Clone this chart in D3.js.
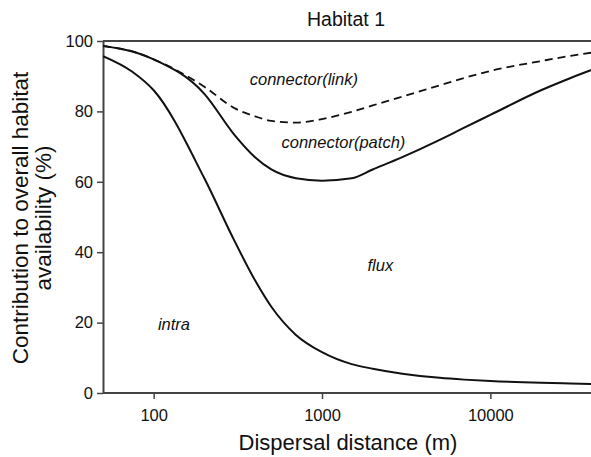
<!DOCTYPE html>
<html>
<head>
<meta charset="utf-8">
<script src="https://cdn.jsdelivr.net/npm/d3@7"></script>
<style>
  body { margin: 0; background: #fff; }
  svg { font-family: "Liberation Sans", Arial, sans-serif; }
</style>
</head>
<body>
<svg width="591" height="457"></svg>
<script>
// dispersal distance (m)
var distance = [50, 75, 100, 200, 300, 400, 500, 700, 1000, 1500, 2000, 3000, 5000, 7000, 10000, 20000, 30000, 50000];
var intra    = [95.7, 91.2, 86, 61, 43.5, 32, 24.5, 16.5, 11.6, 8.2, 6.9, 5.5, 4.3, 3.8, 3.4, 2.9, 2.7, 2.4];
var patch    = [98.6, 97, 94.8, 85, 73.5, 67, 63.5, 61, 60.3, 61, 63.5, 67, 71.9, 75.4, 79, 86, 89.5, 93.5];
var link     = [98.6, 97, 94.8, 87, 81, 78.6, 77.3, 76.8, 77.8, 79.9, 81.7, 84.2, 87.4, 89.5, 91.5, 94.3, 95.8, 97.3];

var xTicks = [100, 1000, 10000];
var yTicks = [0, 20, 40, 60, 80, 100];

var labels = [
  {text: "connector(link)", x: 780, y: 87.5},
  {text: "connector(patch)", x: 1340, y: 69.6},
  {text: "flux", x: 2220, y: 34.7},
  {text: "intra", x: 132, y: 17.9}
];

var svg = d3.select("svg");
var mLeft = 103, mTop = 41, mBottom = 393;

var x = d3.scaleLog().domain([50, 50000]).range([mLeft, 608]);
var y = d3.scaleLinear().domain([0, 100]).range([mBottom, mTop]);

var axisColor = "#444";

// top frame line
svg.append("line")
  .attr("x1", mLeft).attr("x2", 591)
  .attr("y1", mTop).attr("y2", mTop)
  .attr("stroke", axisColor).attr("stroke-width", 2);

var gx = svg.append("g")
  .attr("transform", "translate(0," + mBottom + ")")
  .call(d3.axisBottom(x).tickValues(xTicks).tickFormat(d3.format("d")).tickSize(6).tickSizeOuter(0));

var gy = svg.append("g")
  .attr("transform", "translate(" + mLeft + ",0)")
  .call(d3.axisLeft(y).tickValues(yTicks).tickSize(6).tickSizeOuter(0));

[gx, gy].forEach(function(g) {
  g.select(".domain").attr("stroke", axisColor).attr("stroke-width", 2);
  g.selectAll(".tick line").attr("stroke", axisColor).attr("stroke-width", 1.5);
  g.selectAll(".tick text").attr("fill", "#111").style("font-size", "16.5px")
    .style("font-family", "'Liberation Sans', Arial, sans-serif");
});
gx.select(".domain").attr("d", "M" + mLeft + ",0H591");
gx.selectAll(".tick text").attr("dy", "1.15em");
gy.selectAll(".tick text").attr("dx", "-1px");

var plot = svg.append("g");
plot.append("clipPath").attr("id", "clip")
  .append("rect").attr("x", mLeft).attr("y", 0).attr("width", 591 - mLeft).attr("height", mBottom);

function series(vals) {
  return distance.map(function(d, i) { return [d, vals[i]]; });
}

var line = d3.line()
  .x(function(d) { return x(d[0]); })
  .y(function(d) { return y(d[1]); })
  .curve(d3.curveMonotoneX);

var lines = plot.append("g").attr("clip-path", "url(#clip)");
lines.append("path").datum(series(link))
  .attr("d", line).attr("fill", "none").attr("stroke", "#111")
  .attr("stroke-width", 1.8).attr("stroke-dasharray", "8,5");
lines.append("path").datum(series(patch))
  .attr("d", line).attr("fill", "none").attr("stroke", "#111").attr("stroke-width", 2);
lines.append("path").datum(series(intra))
  .attr("d", line).attr("fill", "none").attr("stroke", "#111").attr("stroke-width", 2);

svg.selectAll(".lab").data(labels).enter().append("text")
  .attr("class", "lab")
  .attr("x", function(d) { return x(d.x); })
  .attr("y", function(d) { return y(d.y); })
  .attr("text-anchor", "middle")
  .style("font-style", "italic")
  .style("font-size", "16.5px")
  .attr("fill", "#111")
  .text(function(d) { return d.text; });

svg.append("text")
  .attr("x", 346).attr("y", 26)
  .attr("text-anchor", "middle")
  .style("font-size", "19.5px").attr("fill", "#111")
  .text("Habitat 1");

svg.append("text")
  .attr("x", 348).attr("y", 450)
  .attr("text-anchor", "middle")
  .style("font-size", "22px").attr("fill", "#111")
  .text("Dispersal distance (m)");

var yt = svg.append("text")
  .attr("transform", "translate(28,218) rotate(-90)")
  .attr("text-anchor", "middle")
  .style("font-size", "22.5px").attr("fill", "#111");
yt.append("tspan").attr("x", 0).attr("y", 0).text("Contribution to overall habitat");
yt.append("tspan").attr("x", 0).attr("y", 23).text("availability (%)");
</script>
</body>
</html>
